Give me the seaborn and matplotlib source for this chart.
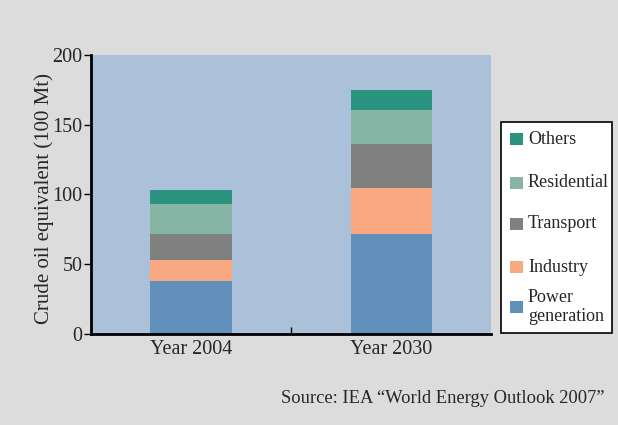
import matplotlib
matplotlib.use("Agg")
import matplotlib.pyplot as plt
import seaborn as sns
import numpy as np
import pandas as pd
from matplotlib.patches import Rectangle

categories = ["Year 2004", "Year 2030"]
power = [38, 71.7]
industry = [15, 33]
transport = [18.7, 31.5]
residential = [21.5, 24.4]
others = [10, 14.3]

series_names = ["Power\ngeneration", "Industry", "Transport", "Residential", "Others"]
series_vals = [power, industry, transport, residential, others]
colors = ["#6190bb", "#f8a981", "#808080", "#86b5a5", "#2a9480"]

sns.set_theme(style="white")
plt.rcParams['font.family'] = ['Liberation Serif', 'DejaVu Serif']

W, H = 618, 425
fig = plt.figure(figsize=(6.18, 4.25), dpi=100)
fig.patch.set_facecolor("#dcdcdc")
ax = fig.add_axes([0.147, 0.214, 0.648, 0.657])
ax.set_facecolor("#abc0d9")

cum = np.cumsum(np.array(series_vals), axis=0)
for i in range(len(series_vals) - 1, -1, -1):
    df = pd.DataFrame({"cat": categories, "val": cum[i]})
    sns.barplot(data=df, x="cat", y="val", color=colors[i], saturation=1,
                width=0.405, ax=ax, edgecolor="none", linewidth=0)

ax.set_xlim(-0.5, 1.5)
ax.set_ylim(0, 200)
ax.set_yticks([0, 50, 100, 150, 200])
ax.set_xlabel("")
ax.set_ylabel("Crude oil equivalent (100 Mt)", fontsize=15)
ax.yaxis.set_label_coords(-0.092, 0.484)
ax.tick_params(axis="y", direction="out", length=5, width=1, labelsize=14.5, left=True, pad=1, color="black")
ax.tick_params(axis="x", length=0, labelsize=14.5, pad=4)
ax.set_xticks([0.5], minor=True)
ax.tick_params(axis="x", which="minor", direction="in", length=5, width=1, bottom=True, color="black")
for s in ["top", "right"]:
    ax.spines[s].set_visible(False)
for s in ["left", "bottom"]:
    ax.spines[s].set_color("black")
    ax.spines[s].set_linewidth(2)

# legend box (drawn manually to match the original layout)
frame = Rectangle((501 / W, (H - 333) / H), 111 / W, 211 / H, transform=fig.transFigure,
                  facecolor="white", edgecolor="black", linewidth=1.2, zorder=1)
fig.add_artist(frame)
entry_y = [307, 267, 224, 183, 139]  # pixel centers, bottom entry first
for name, col, yc in zip(series_names, colors, entry_y):
    fig.add_artist(Rectangle((510 / W, (H - yc - 6) / H), 12.5 / W, 12.5 / H,
                             transform=fig.transFigure, facecolor=col, edgecolor="none", zorder=2))
    fig.text(528 / W, (H - yc) / H, name, ha="left", va="center", fontsize=13,
             linespacing=1.12, zorder=3)

fig.text(0.978, 0.063, "Source: IEA \u201cWorld Energy Outlook 2007\u201d", ha="right",
         va="center", fontsize=13.3)

fig.savefig("out.png", dpi=100, facecolor=fig.get_facecolor())
